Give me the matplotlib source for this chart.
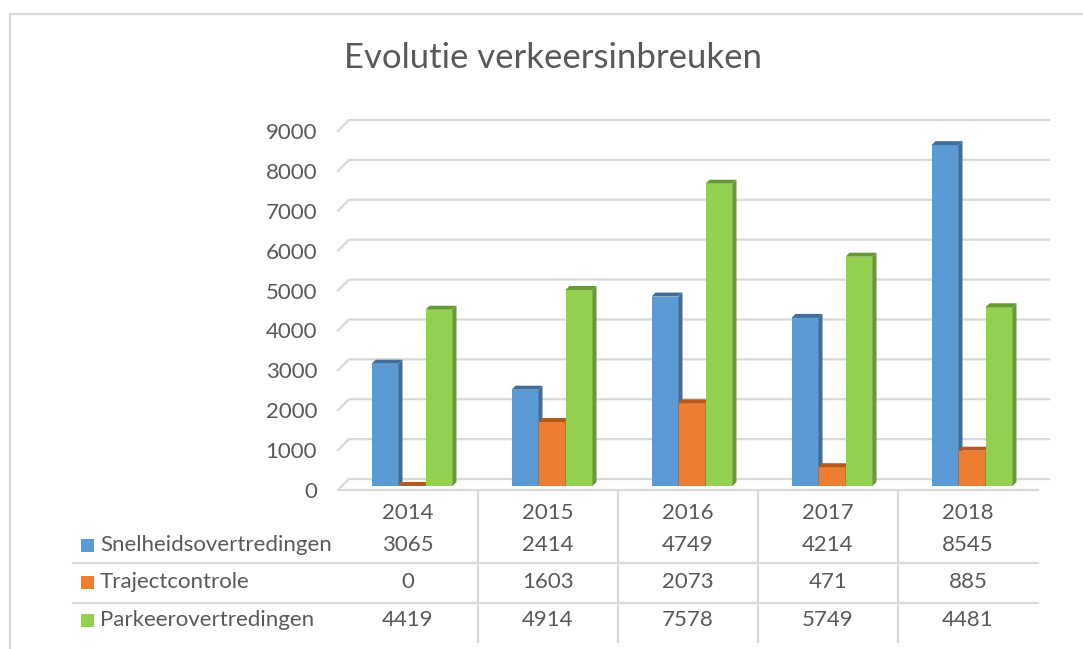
import matplotlib.pyplot as plt
from matplotlib.patches import Polygon, Rectangle
from matplotlib import transforms

plt.rcParams['font.family'] = ['Lato', 'DejaVu Sans']

# data
years = ['2014', '2015', '2016', '2017', '2018']
series_names = ['Snelheidsovertredingen', 'Trajectcontrole', 'Parkeerovertredingen']
snelheid = [3065, 2414, 4749, 4214, 8545]
traject = [0, 1603, 2073, 471, 885]
parkeer = [4419, 4914, 7578, 5749, 4481]
y_ticks = [0, 1000, 2000, 3000, 4000, 5000, 6000, 7000, 8000, 9000]

series = [snelheid, traject, parkeer]
front_cols = ['#5B9BD5', '#ED7D31', '#92D050']
dark_cols = ['#3F6E9B', '#B45A1E', '#679A37']
grid_col = '#D9D9D9'
text_col = '#595959'
fs = 16

W, H = 1083, 649
fig = plt.figure(figsize=(W / 100, H / 100), dpi=100)

# background axes in pixel coordinates (border, legend keys, labels)
bg = fig.add_axes([0, 0, 1, 1])
bg.set_xlim(0, W)
bg.set_ylim(H, 0)
bg.axis('off')

# plot area (front plane)
left_px, right_px, base_px, top_px = 338, 1038, 490, 131
ymax = 9000
ax = fig.add_axes([left_px / W, (H - base_px) / H,
                   (right_px - left_px) / W, (base_px - top_px) / H])
ax.set_xlim(-0.5, len(years) - 0.5)
ax.set_ylim(0, ymax)
ax.patch.set_visible(False)
for s in ax.spines.values():
    s.set_visible(False)

sx = (right_px - left_px) / len(years)   # px per category
sy = (base_px - top_px) / ymax           # px per unit


def off(dx, dy):
    return dx / sx, dy / sy


# back-wall gridlines with the slanted floor/side edge
wall = 11
wx, wy = off(wall, wall)
for v in y_ticks:
    ax.plot([-0.5, -0.5 + wx, len(years) - 0.5 + wx], [v, v + wy, v + wy],
            color=grid_col, lw=1.6, clip_on=False, zorder=0)
# floor front edge
ax.plot([-0.5, len(years) - 0.5], [0, 0], color=grid_col, lw=1.6,
        clip_on=False, zorder=0)

# 3D-ish bars
bw = 27 / sx
d1x, d1y = off(4, 4)
d2x, d2y = off(8, 8)
for j, vals in enumerate(series):
    xs = [i + (j - 1) * bw for i in range(len(years))]
    ax.bar([x + d1x for x in xs], vals, width=bw, bottom=d1y,
           color=front_cols[j], lw=0, zorder=2 + j)
    for x, v in zip(xs, vals):
        x0, x1 = x - bw / 2, x + bw / 2
        side = [(x1 + d1x, d1y), (x1 + d2x, d2y), (x1 + d2x, v + d2y), (x1 + d1x, v + d1y)]
        top = [(x0 + d1x, v + d1y), (x1 + d1x, v + d1y), (x1 + d2x, v + d2y), (x0 + d2x, v + d2y)]
        ax.add_patch(Polygon(side, closed=True, color=dark_cols[j], lw=0,
                             zorder=2 + j, clip_on=False))
        ax.add_patch(Polygon(top, closed=True, color=dark_cols[j], lw=0,
                             zorder=2 + j, clip_on=False))

ax.set_xticks([])
ax.set_yticks(y_ticks)
ax.set_yticklabels([str(t) for t in y_ticks])
ax.tick_params(axis='y', length=0, pad=15, labelsize=fs, labelcolor=text_col)

# title
bg.text(553, 58, 'Evolutie verkeersinbreuken', ha='center', va='center',
        fontsize=25, color=text_col)

# border
bg.plot([10, 10], [H, 14], color=grid_col, lw=1.6)
bg.plot([10, W], [14, 14], color=grid_col, lw=1.6)

# data table
tr = transforms.blended_transform_factory(ax.transData, bg.transData)
table_bottom = 642
header_y = 513
row_ys = [545, 582, 620]
sep_ys = [563, 603]
x_left = (73 - left_px) / sx - 0.5

for i in range(len(years) - 1):
    bg.plot([i + 0.5, i + 0.5], [base_px, table_bottom], color=grid_col,
            lw=1.6, transform=tr)
for y in sep_ys:
    bg.plot([x_left, len(years) - 0.5], [y, y], color=grid_col, lw=1.6,
            transform=tr)

for i, yr in enumerate(years):
    bg.text(i, header_y, yr, ha='center', va='center', fontsize=fs,
            color=text_col, transform=tr)

for j, vals in enumerate(series):
    for i, v in enumerate(vals):
        bg.text(i, row_ys[j], str(v), ha='center', va='center', fontsize=fs,
                color=text_col, transform=tr)
    bg.add_patch(Rectangle((81, row_ys[j] - 6.5), 13, 13, color=front_cols[j], lw=0))
    bg.text(100, row_ys[j], series_names[j], ha='left', va='center',
            fontsize=fs, color=text_col)

fig.savefig('out.png', dpi=100)
